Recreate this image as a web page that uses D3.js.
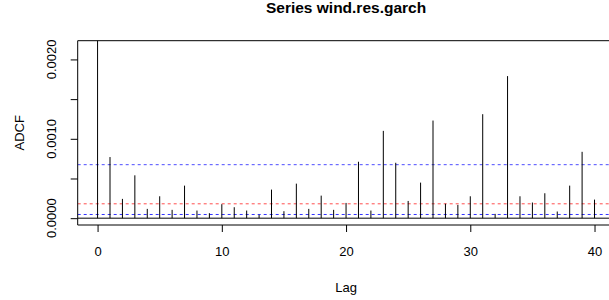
<!DOCTYPE html>
<html>
<head>
<meta charset="utf-8">
<script src="https://cdn.jsdelivr.net/npm/d3@7"></script>
<style>
  html, body { margin: 0; padding: 0; overflow: hidden; background: #fff; }
  svg { display: block; }
  svg text { font-family: "Liberation Sans", Arial, sans-serif; fill: #000; }
</style>
</head>
<body>
<svg id="chart" width="609" height="300"></svg>
<script>
// ADCF values, lag 0..40 (lag 0 runs past the top and is clipped)
const lags = d3.range(0, 41);
const adcf = [0.0025, 0.00077, 0.000243, 0.00054, 0.000117, 0.000276, 0.000105, 0.00041,
  0.000096, 0.000063, 0.000176, 0.000138, 0.000096, 0.000042, 0.00036, 0.000088,
  0.000435, 0.000117, 0.000284, 0.000105, 0.000192, 0.000711, 0.000096, 0.0011,
  0.000698, 0.000217, 0.000448, 0.00123, 0.000182, 0.000167, 0.000276, 0.00131,
  0.000054, 0.00179, 0.000276, 0.000197, 0.000314, 0.000084, 0.00041, 0.000836, 0.000234];
const ylim = [0, 0.00215];
const xlim = [0, 40];
const hlines = [
  { value: 0.000674, color: "#4d4dff", dash: "3,3" },
  { value: 0.000181, color: "#ff4d4d", dash: "3,3" },
  { value: 0.0000464, color: "#3333ff", dash: "3,3" }
];
const xTicks = [0, 10, 20, 30, 40];
const yTicks = [0, 0.0005, 0.001, 0.0015, 0.002];
const yLabels = [0, 0.001, 0.002];

const plot = { left: 77.7, top: 40.7, right: 614.4, bottom: 225 };
const W = 609;   // the window cuts the plot region on the right
const edge = Math.min(plot.right, W);

// R style 4% padding on both ends
function pad(r) { const d = (r[1] - r[0]) * 0.04; return [r[0] - d, r[1] + d]; }

const x = d3.scaleLinear().domain(pad(xlim)).range([plot.left, plot.right]);
const y = d3.scaleLinear().domain(pad(ylim)).range([plot.bottom, plot.top]);

const svg = d3.select("#chart");

svg.append("defs").append("clipPath").attr("id", "clip")
  .append("rect")
  .attr("x", plot.left).attr("y", plot.top)
  .attr("width", edge - plot.left).attr("height", plot.bottom - plot.top);

const g = svg.append("g").attr("clip-path", "url(#clip)");

// zero line
g.append("line")
  .attr("x1", plot.left).attr("x2", edge)
  .attr("y1", y(0)).attr("y2", y(0))
  .attr("stroke", "#000").attr("stroke-width", 1);

g.selectAll(".hline")
  .data(hlines)
  .join("line")
  .attr("class", "hline")
  .attr("x1", plot.left).attr("x2", edge)
  .attr("y1", d => y(d.value)).attr("y2", d => y(d.value))
  .attr("stroke", d => d.color)
  .attr("stroke-dasharray", d => d.dash)
  .attr("stroke-width", 1);

g.selectAll(".bar")
  .data(lags)
  .join("line")
  .attr("class", "bar")
  .attr("x1", d => x(d)).attr("x2", d => x(d))
  .attr("y1", y(0)).attr("y2", d => y(adcf[d]))
  .attr("stroke", "#000").attr("stroke-width", 1);

// box without its right side
const box = d3.path();
box.moveTo(edge, plot.top);
box.lineTo(plot.left, plot.top);
box.lineTo(plot.left, plot.bottom);
box.lineTo(edge, plot.bottom);
svg.append("path")
  .attr("d", box.toString())
  .attr("fill", "none").attr("stroke", "#000").attr("stroke-width", 1);

// x axis
const xAxis = svg.append("g")
  .attr("transform", `translate(0,${plot.bottom})`)
  .call(d3.axisBottom(x).tickValues(xTicks).tickSize(7).tickPadding(15).tickFormat(d3.format("d")));
xAxis.select(".domain").remove();
xAxis.selectAll("text").style("font-size", "13px").attr("fill", "#000");

// y axis
const yAxis = svg.append("g")
  .attr("transform", `translate(${plot.left},0)`)
  .call(d3.axisLeft(y).tickValues(yTicks).tickSize(7).tickFormat(""));
yAxis.select(".domain").remove();

svg.selectAll(".ylab")
  .data(yLabels)
  .join("text")
  .attr("class", "ylab")
  .attr("transform", d => `translate(56,${y(d)}) rotate(-90)`)
  .attr("text-anchor", "middle")
  .style("font-size", "13px")
  .text(d => d.toFixed(4));

svg.append("text")
  .attr("transform", `translate(24,${(plot.top + plot.bottom) / 2}) rotate(-90)`)
  .attr("text-anchor", "middle")
  .style("font-size", "13px")
  .text("ADCF");

svg.append("text")
  .attr("x", x(20)).attr("y", 292)
  .attr("text-anchor", "middle")
  .style("font-size", "13px")
  .text("Lag");

svg.append("text")
  .attr("x", x(20)).attr("y", 13)
  .attr("text-anchor", "middle")
  .style("font-size", "15.5px")
  .style("font-weight", "bold")
  .text("Series wind.res.garch");
</script>
</body>
</html>
